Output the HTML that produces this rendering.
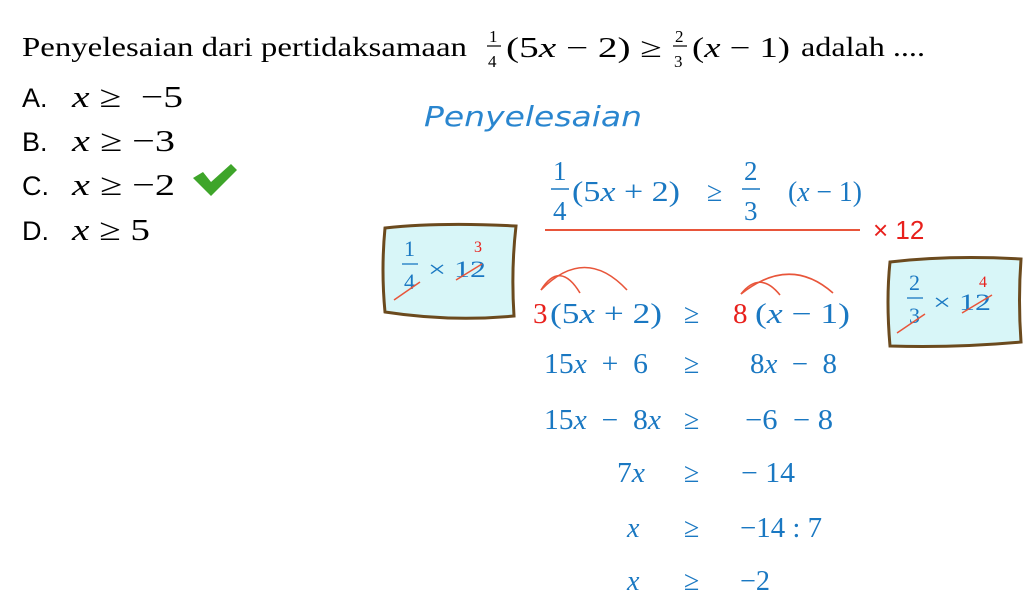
<!DOCTYPE html>
<html><head><meta charset="utf-8"><style>
html,body{margin:0;padding:0;background:#fff;width:1024px;height:615px;overflow:hidden}
svg{display:block}
text{white-space:pre}
.s{font-family:"Liberation Serif",serif}
.a{font-family:"Liberation Sans",sans-serif}
.b{fill:#1a78c2}
.r{fill:#e8201c}
</style></head><body>
<svg width="1024" height="615" viewBox="0 0 1024 615" xmlns="http://www.w3.org/2000/svg" xml:space="preserve">
<text class="s" x="22" y="56" font-size="27" textLength="445" lengthAdjust="spacingAndGlyphs">Penyelesaian dari pertidaksamaan</text>
<text class="s" x="489" y="42" font-size="17">1</text>
<line x1="487" y1="46" x2="501" y2="46" stroke="#000" stroke-width="1.2"/>
<text class="s" x="488" y="67" font-size="17">4</text>
<text class="s" x="506" y="57" font-size="28" textLength="156" lengthAdjust="spacingAndGlyphs">(5<tspan font-style="italic">x</tspan> − 2) ≥</text>
<text class="s" x="675" y="42" font-size="17">2</text>
<line x1="673" y1="46" x2="687" y2="46" stroke="#000" stroke-width="1.2"/>
<text class="s" x="674" y="67" font-size="17">3</text>
<text class="s" x="692" y="57" font-size="28" textLength="98" lengthAdjust="spacingAndGlyphs">(<tspan font-style="italic">x</tspan> − 1)</text>
<text class="s" x="801" y="56" font-size="27" textLength="124" lengthAdjust="spacingAndGlyphs">adalah ....</text>
<g class="a" font-size="27">
<text x="22" y="107">A.</text><text x="22" y="151">B.</text><text x="22" y="195">C.</text><text x="22" y="240">D.</text>
</g>
<g class="s" font-size="31">
<text x="72" y="107" textLength="111" lengthAdjust="spacingAndGlyphs"><tspan font-style="italic">x</tspan> ≥  −5</text>
<text x="72" y="151" textLength="103" lengthAdjust="spacingAndGlyphs"><tspan font-style="italic">x</tspan> ≥ −3</text>
<text x="72" y="195" textLength="103" lengthAdjust="spacingAndGlyphs"><tspan font-style="italic">x</tspan> ≥ −2</text>
<text x="72" y="240" textLength="78" lengthAdjust="spacingAndGlyphs"><tspan font-style="italic">x</tspan> ≥ 5</text>
</g>
<path d="M193 178 L203 172 L211 182 L231 164 L237 170 L211 196 Z" fill="#3ea52a"/>
<text x="424" y="126" font-family="'DejaVu Sans',sans-serif" font-size="28" fill="#2a86cf" font-weight="200" textLength="218" lengthAdjust="spacingAndGlyphs" style="font-style:italic">Penyelesaian</text>
<g class="s b">
<text x="553" y="180" font-size="27">1</text>
<line x1="551" y1="189" x2="569" y2="189" stroke="#1a78c2" stroke-width="1.6"/>
<text x="553" y="220" font-size="27">4</text>
<text x="572" y="201" font-size="28" textLength="108" lengthAdjust="spacingAndGlyphs">(5<tspan font-style="italic">x</tspan> + 2)</text>
<text x="707" y="201" font-size="28">≥</text>
<text x="744" y="180" font-size="27">2</text>
<line x1="742" y1="189" x2="760" y2="189" stroke="#1a78c2" stroke-width="1.6"/>
<text x="744" y="220" font-size="27">3</text>
<text x="788" y="201" font-size="28" textLength="74" lengthAdjust="spacingAndGlyphs">(<tspan font-style="italic">x</tspan> − 1)</text>
</g>
<line x1="545" y1="230" x2="860" y2="230" stroke="#e8553a" stroke-width="2"/>
<text class="a r" x="873" y="239" font-size="26">× 12</text>
<path d="M385 228 Q440 222 516 226 Q511 270 514 316 Q450 322 385 312 Q381 270 385 228 Z" fill="#d8f6f8" stroke="#6b4a1e" stroke-width="3"/>
<g class="s b">
<text x="404" y="256" font-size="22">1</text>
<line x1="402" y1="264" x2="418" y2="264" stroke="#1a78c2" stroke-width="1.3"/>
<text x="404" y="289" font-size="22">4</text>
<text x="428" y="277" font-size="23" textLength="58" lengthAdjust="spacingAndGlyphs">× 12</text>
</g>
<text class="s r" x="474" y="252" font-size="16">3</text>
<line x1="394" y1="300" x2="420" y2="282" stroke="#e8553a" stroke-width="1.5"/>
<line x1="456" y1="280" x2="482" y2="264" stroke="#e8553a" stroke-width="1.5"/>
<path d="M890 262 Q950 255 1021 259 Q1018 300 1021 342 Q955 348 890 346 Q886 300 890 262 Z" fill="#d8f6f8" stroke="#6b4a1e" stroke-width="3"/>
<g class="s b">
<text x="909" y="290" font-size="22">2</text>
<line x1="907" y1="298" x2="923" y2="298" stroke="#1a78c2" stroke-width="1.3"/>
<text x="909" y="323" font-size="22">3</text>
<text x="933" y="310" font-size="23" textLength="58" lengthAdjust="spacingAndGlyphs">× 12</text>
</g>
<text class="s r" x="979" y="287" font-size="16">4</text>
<line x1="897" y1="333" x2="925" y2="314" stroke="#e8553a" stroke-width="1.5"/>
<line x1="962" y1="313" x2="992" y2="295" stroke="#e8553a" stroke-width="1.5"/>
<g fill="none" stroke="#e8553a" stroke-width="1.6">
<path d="M541 290 Q560 260 580 293"/>
<path d="M541 290 Q585 245 627 290"/>
<path d="M741 294 Q760 270 780 295"/>
<path d="M741 294 Q790 255 833 293"/>
</g>
<text class="s r" x="533" y="323" font-size="29">3</text>
<text class="s b" x="550" y="323" font-size="28" textLength="112" lengthAdjust="spacingAndGlyphs">(5<tspan font-style="italic">x</tspan> + 2)</text>
<text class="s b" x="684" y="323" font-size="28">≥</text>
<text class="s r" x="733" y="323" font-size="29">8</text>
<text class="s b" x="755" y="323" font-size="28" textLength="95" lengthAdjust="spacingAndGlyphs">(<tspan font-style="italic">x</tspan> − 1)</text>
<g class="s b" font-size="28">
<text x="544" y="373" textLength="104" lengthAdjust="spacingAndGlyphs">15<tspan font-style="italic">x</tspan>  +  6</text>
<text x="684" y="373">≥</text>
<text x="750" y="373" textLength="87" lengthAdjust="spacingAndGlyphs">8<tspan font-style="italic">x</tspan>  −  8</text>
<text x="544" y="429" textLength="117" lengthAdjust="spacingAndGlyphs">15<tspan font-style="italic">x</tspan>  −  8<tspan font-style="italic">x</tspan></text>
<text x="684" y="429">≥</text>
<text x="745" y="429" textLength="88" lengthAdjust="spacingAndGlyphs">−6  − 8</text>
<text x="617" y="482" textLength="28" lengthAdjust="spacingAndGlyphs">7<tspan font-style="italic">x</tspan></text>
<text x="684" y="482">≥</text>
<text x="741" y="482" textLength="54" lengthAdjust="spacingAndGlyphs">− 14</text>
<text x="627" y="537" font-style="italic">x</text>
<text x="684" y="537">≥</text>
<text x="740" y="537" textLength="82" lengthAdjust="spacingAndGlyphs">−14 : 7</text>
<text x="627" y="590" font-style="italic">x</text>
<text x="684" y="590">≥</text>
<text x="740" y="590" textLength="30" lengthAdjust="spacingAndGlyphs">−2</text>
</g>
</svg>
</body></html>
